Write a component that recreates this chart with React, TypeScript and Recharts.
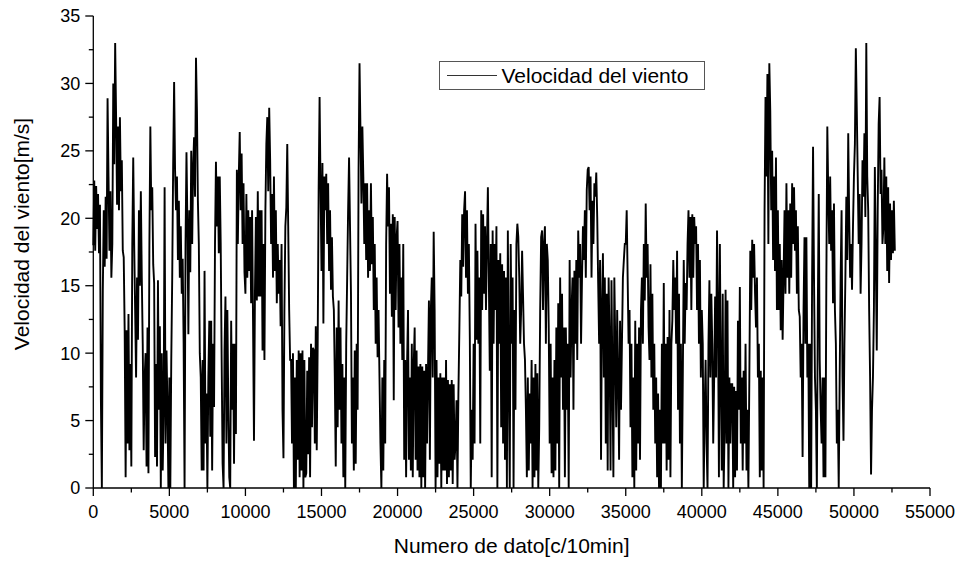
import { LineChart, Line, XAxis, YAxis, Legend, Label } from "recharts";

// one reading every 62.5 data numbers in blocks of 5000
const STEP = 62.5;

const seg0 = [
  18.0, 22.8, 17.6, 22.4, 19.2, 21.8, 17.4, 21.0,
  6.5, 0, 14.6, 20.6, 16.4, 21.6, 17.0, 28.9,
  23.1, 17.6, 22.0, 15.6, 18.1, 30.0, 24.0, 33.0,
  27.5, 21.0, 26.8, 20.6, 27.5, 22.0, 24.3, 17.6,
  17.1, 11.7, 0.8, 11.7, 3.3, 12.9, 2.8, 9.2,
  1.6, 18.1, 24.5, 18.1, 13.2, 8.2, 15.6, 11.0,
  20.6, 15.0, 22.0, 15.6, 10.7, 2.8, 8.2, 10.0,
  1.6, 11.9, 1.1, 18.1, 26.8, 20.6, 22.3, 16.6,
  15.2, 2.3, 9.2, 1.6, 15.4, 5.8, 12.0, 0,
  10.0, 1.3, 5.8, 22.3, 3.3, 10.2, 6.0, 0,
];
const seg1 = [
  8.2, 0, 9.5, 15.6, 24.0, 30.1, 23.6, 20.6,
  23.1, 16.9, 21.3, 15.6, 19.4, 14.4, 17.0, 10.7,
  0, 18.1, 24.9, 19.4, 11.4, 20.6, 16.0, 25.0,
  18.1, 23.8, 26.0, 21.6, 31.9, 28.0, 21.3, 18.1,
  10.0, 8.2, 1.3, 9.5, 1.3, 16.1, 3.3, 7.0,
  0, 8.2, 12.4, 3.8, 12.4, 1.3, 10.7, 6.0,
  18.1, 24.2, 19.4, 23.1, 17.4, 23.1, 18.1, 9.5,
  1.8, 0, 10.2, 14.2, 3.3, 13.2, 6.0, 0.8,
  0, 12.4, 5.8, 10.7, 1.8, 10.7, 4.0, 23.6,
  18.1, 23.1, 26.4, 20.6, 24.8, 18.1, 22.6, 16.0,
];
const seg2 = [
  14.4, 21.8, 15.6, 20.6, 16.1, 20.1, 13.7, 20.6,
  12.4, 3.5, 14.4, 20.1, 13.9, 22.0, 14.2, 20.6,
  14.2, 20.6, 10.2, 18.1, 9.5, 20.6, 25.5, 27.5,
  22.0, 28.2, 24.3, 18.1, 21.8, 15.6, 23.1, 16.1,
  20.6, 13.7, 18.1, 14.4, 16.9, 12.0, 18.1, 5.8,
  2.2, 13.2, 19.4, 20.8, 25.5, 19.4, 13.2, 9.5,
  9.5, 3.3, 10.0, 0, 8.2, 0, 9.5, 2.1,
  10.2, 0.8, 10.0, 1.3, 10.2, 0, 9.5, 0.8,
  1.1, 8.7, 2.5, 9.7, 0.8, 10.7, 4.5, 10.4,
  10.2, 3.3, 12.0, 2.8, 10.7, 22.1, 29.0, 22.3,
];
const seg3 = [
  16.1, 24.1, 12.2, 23.1, 20.6, 23.3, 18.1, 22.6,
  16.1, 20.6, 14.7, 18.6, 14.2, 13.2, 8.2, 1.6,
  11.9, 4.5, 13.9, 5.8, 11.9, 3.3, 9.2, 0.8,
  8.2, 0, 10.7, 15.6, 20.6, 24.5, 19.4, 14.4,
  3.3, 8.2, 1.3, 10.2, 1.8, 10.7, 5.8, 23.6,
  31.5, 26.5, 21.1, 26.8, 23.1, 18.1, 22.6, 16.9,
  22.6, 15.6, 20.6, 16.1, 22.6, 16.6, 20.1, 13.2,
  18.1, 10.7, 15.6, 9.7, 13.2, 8.2, 3.3, 0,
  8.2, 1.3, 9.5, 3.3, 18.1, 23.3, 19.4, 22.3,
  14.4, 19.6, 12.7, 20.3, 6.5, 20.1, 13.2, 18.6,
];
const seg4 = [
  19.8, 11.9, 18.1, 10.7, 15.6, 9.5, 18.1, 2.1,
  9.5, 0.8, 9.2, 13.2, 2.1, 8.2, 1.3, 10.7,
  0.8, 9.2, 11.9, 2.1, 10.2, 1.3, 9.0, 0.8,
  9.2, 0, 9.0, 0.8, 8.7, 0, 9.2, 3.3,
  8.7, 13.9, 2.1, 13.2, 15.6, 8.2, 19.0, 13.2,
  0, 9.5, 0.8, 8.2, 1.8, 8.5, 0, 8.2,
  1.3, 8.2, 1.3, 9.5, 0.3, 8.0, 0.8, 7.7,
  1.3, 8.0, 0.3, 7.7, 2.1, 3.3, 6.5, 0,
  7.0, 11.7, 16.9, 14.2, 20.3, 16.4, 20.6, 22.0,
  15.6, 20.6, 14.4, 18.1, 11.2, 0, 5.8, 2.1,
];
const seg5 = [
  10.7, 3.3, 19.6, 11.0, 17.6, 10.7, 15.6, 3.3,
  20.6, 13.2, 20.3, 14.4, 19.4, 13.2, 18.1, 22.3,
  15.6, 8.7, 18.1, 0.8, 19.1, 10.7, 18.1, 13.2,
  19.4, 0, 16.9, 10.7, 17.4, 4.5, 16.6, 3.3,
  16.1, 2.1, 15.6, 0, 19.1, 8.2, 0, 18.1,
  10.7, 15.6, 0, 13.2, 5.8, 18.1, 19.6, 18.6,
  15.6, 10.7, 13.2, 17.6, 14.2, 10.7, 9.5, 5.8,
  0.8, 8.2, 1.3, 7.0, 3.3, 9.5, 0, 8.2,
  0.8, 9.2, 1.3, 8.5, 0, 4.5, 13.2, 18.6,
  19.1, 13.2, 18.1, 19.4, 10.7, 18.1, 16.9, 11.9,
];
const seg6 = [
  3.3, 10.7, 1.1, 8.2, 0.8, 9.5, 1.3, 11.9,
  3.3, 13.7, 0, 15.6, 8.2, 14.4, 5.8, 11.9,
  0.8, 11.9, 5.8, 10.7, 0, 16.9, 8.2, 13.2,
  15.6, 5.8, 16.1, 10.7, 16.9, 9.5, 19.1, 15.6,
  18.1, 10.7, 15.6, 19.4, 16.9, 20.6, 15.6, 22.1,
  23.6, 23.8, 20.6, 23.1, 15.6, 21.3, 18.1, 22.6,
  21.6, 23.4, 20.1, 15.2, 10.7, 16.9, 2.1, 13.2,
  17.4, 8.2, 15.6, 3.3, 14.4, 1.3, 15.6, 10.7,
  1.3, 15.4, 8.2, 0.8, 15.6, 10.7, 4.5, 13.2,
  8.2, 2.1, 12.4, 5.8, 10.7, 15.6, 16.9, 18.1,
];
const seg7 = [
  18.1, 20.6, 15.6, 10.7, 13.2, 4.5, 10.7, 0.8,
  8.2, 0, 12.4, 1.3, 10.7, 3.3, 11.9, 2.1,
  13.2, 15.6, 10.7, 18.1, 13.9, 21.1, 15.6, 18.1,
  11.9, 9.5, 16.6, 8.2, 14.4, 5.8, 10.7, 3.3,
  8.2, 0.8, 7.0, 0, 5.8, 0, 10.7, 3.3,
  15.2, 3.3, 10.7, 1.3, 11.2, 2.1, 13.2, 0.8,
  10.7, 12.4, 16.9, 13.2, 15.6, 10.7, 17.6, 5.8,
  14.4, 3.3, 10.7, 0, 8.2, 16.9, 10.7, 15.2,
  13.2, 18.1, 20.6, 15.6, 20.1, 13.2, 20.3, 15.6,
  20.1, 18.1, 19.4, 13.2, 18.1, 10.7, 16.9, 8.2,
];
const seg8 = [
  13.2, 10.7, 0, 5.8, 9.5, 3.3, 0, 10.7,
  15.4, 8.2, 14.4, 10.7, 3.3, 8.2, 14.2, 8.2,
  19.1, 13.2, 0.8, 18.1, 8.2, 1.3, 14.4, 0,
  4.5, 14.7, 3.3, 13.9, 0, 8.2, 3.3, 7.7,
  7.7, 0, 7.5, 0.8, 7.2, 1.3, 12.4, 5.8,
  14.9, 3.3, 8.2, 1.3, 8.7, 3.3, 10.7, 1.3,
  5.8, 0, 8.2, 17.6, 13.2, 18.4, 15.6, 18.1,
  14.4, 11.9, 15.6, 8.2, 10.7, 0.8, 8.7, 1.3,
  8.2, 0, 20.6, 29.0, 23.1, 30.7, 18.1, 31.5,
  28.0, 20.6, 25.0, 16.9, 23.1, 16.1, 24.5, 13.2,
];
const seg9 = [
  20.6, 13.2, 18.1, 11.7, 16.9, 11.0, 15.6, 20.6,
  14.4, 22.6, 15.6, 20.6, 14.4, 21.1, 15.6, 22.6,
  18.1, 22.3, 17.6, 20.6, 14.4, 19.4, 13.2, 12.7,
  8.2, 10.7, 2.3, 13.2, 18.6, 10.7, 18.6, 8.2,
  10.7, 0, 10.7, 0, 15.6, 25.3, 15.6, 8.2,
  5.8, 0, 13.2, 21.8, 9.5, 5.8, 3.3, 8.2,
  0.8, 8.2, 0.8, 15.6, 26.8, 21.8, 18.1, 23.1,
  17.6, 20.6, 13.7, 21.1, 13.2, 10.7, 3.3, 5.8,
  0, 8.2, 15.6, 20.6, 8.2, 3.5, 10.7, 15.6,
  21.6, 16.9, 26.3, 20.1, 15.6, 18.1, 14.7, 19.4,
];
const seg10 = [
  23.1, 25.5, 32.6, 28.0, 23.1, 18.1, 21.8, 14.4,
  18.1, 24.3, 21.6, 26.3, 20.1, 33.0, 23.1, 20.6,
  13.2, 8.2, 1.0, 5.8, 8.2, 13.2, 23.8, 16.9,
  10.2, 20.6, 27.0, 29.0, 21.8, 23.6, 18.1, 19.4,
  24.5, 18.1, 23.1, 16.1, 22.3, 15.2, 21.1, 16.9,
  20.6, 17.4, 21.3, 17.6,
];

const xTicks = [
  0, 2500, 5000, 7500, 10000, 12500, 15000, 17500, 20000, 22500, 25000, 27500,
  30000, 32500, 35000, 37500, 40000, 42500, 45000, 47500, 50000, 52500, 55000,
];
const yTicks = [0, 2.5, 5, 7.5, 10, 12.5, 15, 17.5, 20, 22.5, 25, 27.5, 30, 32.5, 35];

const seriesName = "Velocidad del viento";
const xTitle = "Numero de dato[c/10min]";
const yTitle = "Velocidad del viento[m/s]";

const FONT = "Arial, 'Liberation Sans', sans-serif";

const data = [seg0, seg1, seg2, seg3, seg4, seg5, seg6, seg7, seg8, seg9, seg10]
  .flat()
  .map((v, i) => ({ n: i * STEP, v }));

function XTick({ x, y, payload }: any) {
  const major = payload.value % 5000 === 0;
  return (
    <g>
      <line x1={x} x2={x} y1={y} y2={y + (major ? 8 : 4.5)} stroke="#000" strokeWidth={1.3} />
      {major && (
        <text x={x} y={y + 29.5} textAnchor="middle" fontSize={18} fontFamily={FONT} fill="#000">
          {payload.value}
        </text>
      )}
    </g>
  );
}

function YTick({ x, y, payload }: any) {
  const major = payload.value % 5 === 0;
  return (
    <g>
      <line x1={x - (major ? 8 : 4.5)} x2={x} y1={y} y2={y} stroke="#000" strokeWidth={1.3} />
      {major && (
        <text x={x - 13} y={y + 6.4} textAnchor="end" fontSize={18} fontFamily={FONT} fill="#000">
          {payload.value}
        </text>
      )}
    </g>
  );
}

function LegendBox() {
  return (
    <div
      style={{
        boxSizing: "border-box",
        width: 266,
        height: 29,
        border: "1px solid #555",
        background: "#fff",
        position: "relative",
        fontFamily: FONT,
      }}
    >
      <svg width={60} height={27} style={{ position: "absolute", left: 0, top: 0 }}>
        <line x1={7} x2={57} y1={13.5} y2={13.5} stroke="#333" strokeWidth={1} />
      </svg>
      <span
        style={{
          position: "absolute",
          left: 61.5,
          top: 0,
          fontSize: 21,
          lineHeight: "27px",
          whiteSpace: "nowrap",
          color: "#000",
        }}
      >
        {seriesName}
      </span>
    </div>
  );
}

export default function App() {
  return (
    <div style={{ position: "absolute", left: 0, top: 0, width: 959, height: 561, background: "#fff" }}>
      <LineChart
        width={959}
        height={561}
        data={data}
        margin={{ top: 16, right: 29, bottom: 0, left: 0 }}
        style={{ fontFamily: FONT }}
      >
        <XAxis
          dataKey="n"
          type="number"
          domain={[0, 55000]}
          ticks={xTicks}
          interval={0}
          height={73}
          tickSize={0}
          tickMargin={0}
          tickLine={false}
          tick={<XTick />}
          axisLine={{ stroke: "#000", strokeWidth: 1.3 }}
        >
          <Label
            content={({ viewBox }: any) => (
              <text
                x={viewBox.x + viewBox.width / 2}
                y={viewBox.y + viewBox.height - 7.7}
                textAnchor="middle"
                fontSize={21}
                fontFamily={FONT}
                fill="#000"
              >
                {xTitle}
              </text>
            )}
          />
        </XAxis>
        <YAxis
          type="number"
          domain={[0, 35]}
          ticks={yTicks}
          interval={0}
          width={93.3}
          tickSize={0}
          tickMargin={0}
          tickLine={false}
          tick={<YTick />}
          axisLine={{ stroke: "#000", strokeWidth: 1.3 }}
        >
          <Label
            content={({ viewBox }: any) => {
              const cx = 28.5;
              const cy = viewBox.y + viewBox.height / 2 - 18;
              return (
                <text
                  x={cx}
                  y={cy}
                  transform={`rotate(-90 ${cx} ${cy})`}
                  textAnchor="middle"
                  fontSize={21}
                  fontFamily={FONT}
                  fill="#000"
                >
                  {yTitle}
                </text>
              );
            }}
          />
        </YAxis>
        <Legend
          layout="vertical"
          align="center"
          verticalAlign="middle"
          wrapperStyle={{ left: 439, top: 61, width: 266, height: 29 }}
          content={() => <LegendBox />}
        />
        <Line
          type="linear"
          dataKey="v"
          name={seriesName}
          stroke="#000"
          strokeWidth={1.9}
          strokeLinejoin="miter"
          dot={false}
          activeDot={false}
          isAnimationActive={false}
        />
      </LineChart>
    </div>
  );
}
